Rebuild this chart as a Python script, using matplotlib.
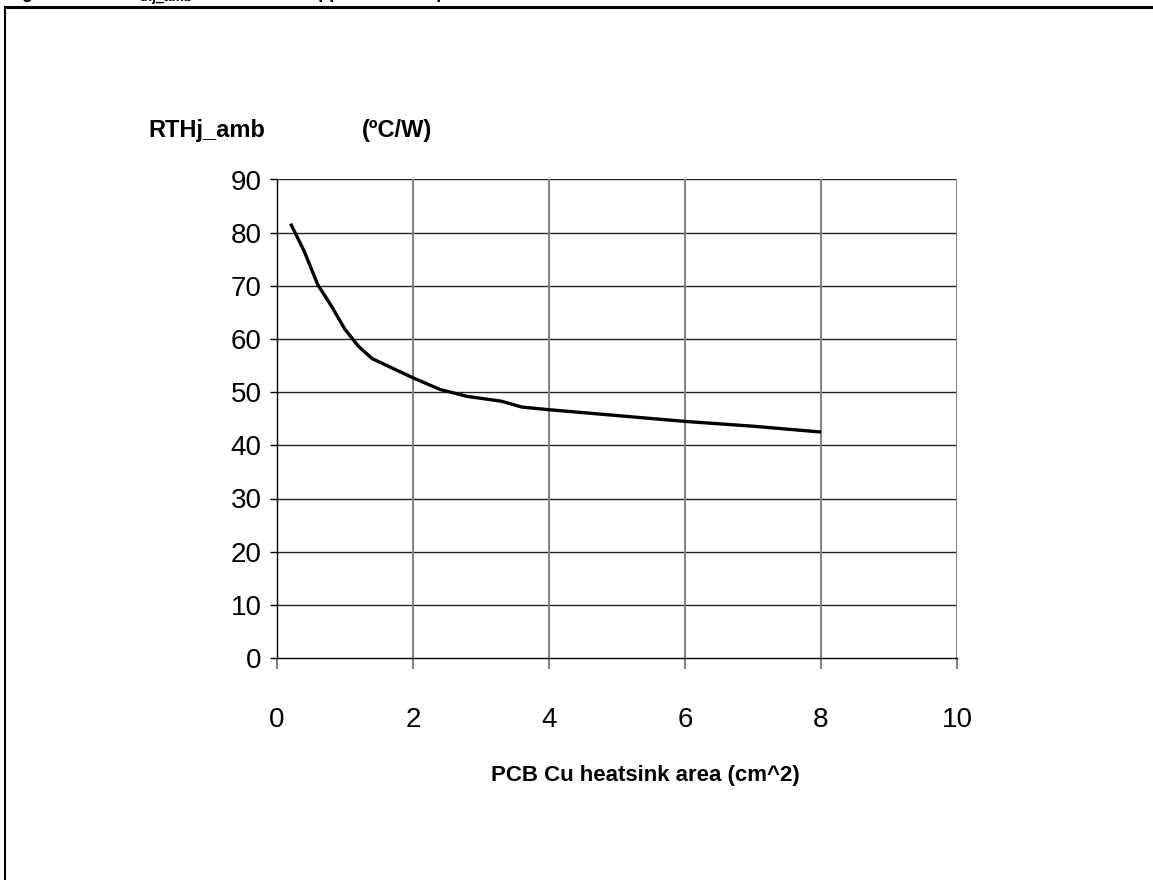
import matplotlib
matplotlib.use("Agg")
import matplotlib.pyplot as plt
from matplotlib.lines import Line2D

plt.rcParams['font.family'] = ['Liberation Sans', 'DejaVu Sans']

area = [0.2, 0.4, 0.6, 0.8, 1.0, 1.2, 1.4, 2.0, 2.4, 2.8, 3.3, 3.6, 4.0, 5.0, 6.0, 7.0, 8.0]
rth = [81.7, 76.5, 70.2, 66.2, 61.8, 58.6, 56.3, 52.7, 50.5, 49.2, 48.3, 47.2, 46.7, 45.6, 44.5, 43.6, 42.5]
x_ticks = [0, 2, 4, 6, 8, 10]
y_ticks = [0, 10, 20, 30, 40, 50, 60, 70, 80, 90]
y_label_name = "RTHj_amb"
y_label_unit = "(\u00baC/W)"
x_label = "PCB Cu heatsink area (cm^2)"

W, H = 1153, 880
fig = plt.figure(figsize=(W / 100, H / 100), dpi=100)
ax = fig.add_axes([277 / W, 1 - 658 / H, (957 - 277) / W, (658 - 179.5) / H])

ax.set_xlim(0, 10)
ax.set_ylim(0, 90)
ax.set_xticks(x_ticks)
ax.set_yticks(y_ticks)

for yv in y_ticks[1:]:
    ax.axhline(yv, color='#222222', lw=1.0, zorder=1)
for xv in x_ticks[1:]:
    ax.axvline(xv, color='#808080', lw=1.4, zorder=1)

ax.plot(area, rth, color='black', lw=2.4, zorder=3, solid_capstyle='butt')

for s in ['top', 'right']:
    ax.spines[s].set_visible(False)
ax.spines['left'].set_color('black')
ax.spines['left'].set_linewidth(1.0)
ax.spines['bottom'].set_color('black')
ax.spines['bottom'].set_linewidth(1.0)

ax.tick_params(axis='y', direction='out', length=5, width=1.0, color='black',
               labelsize=20, pad=6)
ax.tick_params(axis='x', direction='out', length=8, width=1.4, color='#808080',
               labelsize=20, pad=27, labelcolor='black')

fig.text(148 / W, 1 - 130 / H, y_label_name, fontsize=17, fontweight='bold',
         ha='left', va='center')
fig.text(432 / W, 1 - 130 / H, y_label_unit, fontsize=17, fontweight='bold',
         ha='right', va='center')
fig.text(645 / W, 1 - 775 / H, x_label, fontsize=16, fontweight='bold',
         ha='center', va='center')

# page frame
fig.add_artist(Line2D([5 / W, 1.0], [1 - 7 / H, 1 - 7 / H], color='black', lw=2.2,
                      transform=fig.transFigure))
fig.add_artist(Line2D([5 / W, 5 / W], [1 - 7 / H, 0], color='black', lw=1.5,
                      transform=fig.transFigure))

# caption at the top, cut off by the page edge as in the reference
fig.text(6 / W, 1 + 2 / H, "Figure 5.  R", fontsize=13, fontweight='bold',
         ha='left', va='baseline')
fig.text(140 / W, 1 - 1 / H, "thj_amb", fontsize=10, fontweight='bold',
         ha='left', va='baseline')
fig.text(222 / W, 1 + 2 / H, "Vs. PCB copper area in open box free air condition",
         fontsize=13, fontweight='bold', ha='left', va='baseline')

fig.savefig("out.png", dpi=100)
